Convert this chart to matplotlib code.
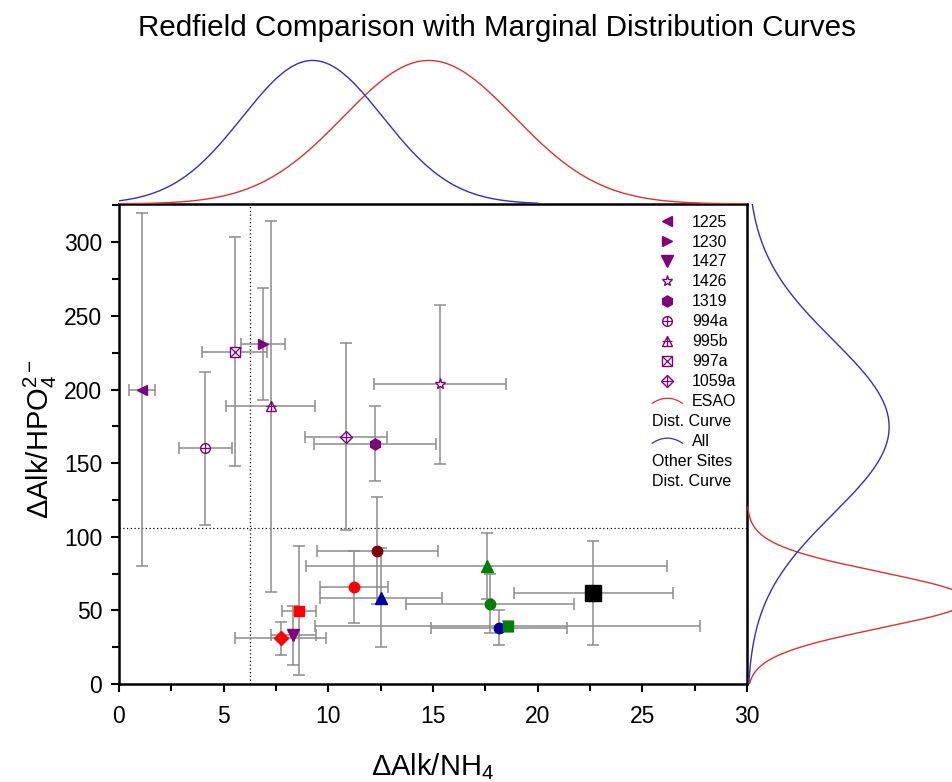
import numpy as np
import matplotlib
matplotlib.use("Agg")
import matplotlib.pyplot as plt
from matplotlib.ticker import MultipleLocator
from matplotlib.lines import Line2D
from matplotlib.legend_handler import HandlerBase

plt.rcParams['font.family'] = ['Liberation Sans', 'DejaVu Sans']
plt.rcParams['mathtext.fontset'] = 'custom'
plt.rcParams['mathtext.rm'] = 'Liberation Sans'
plt.rcParams['mathtext.it'] = 'Liberation Sans:italic'
plt.rcParams['mathtext.default'] = 'regular'

# ---------------- data ----------------
site_labels = ['1225', '1230', '1427', '1426', '1319', '994a', '995b', '997a', '1059a']
site_x = [1.10, 6.87, 8.33, 15.34, 12.23, 4.13, 7.25, 5.53, 10.83]
site_xerr = [0.64, 1.05, 1.06, 3.16, 2.93, 1.25, 2.13, 1.56, 1.95]
site_y = [200.0, 231.0, 33.0, 203.6, 163.3, 160.0, 188.7, 225.6, 168.0]
site_yerr = [120.0, 38.0, 20.0, 54.0, 25.6, 51.8, 126.0, 77.7, 63.5]

other_x = [12.34, 11.23, 12.52, 8.61, 7.73, 17.56, 17.72, 18.16, 18.56, 22.66]
other_xerr = [2.89, 1.64, 2.91, 0.82, 2.18, 8.63, 4.00, 3.24, 9.20, 3.81]
other_y = [90.5, 65.8, 58.6, 49.8, 31.0, 80.0, 54.5, 38.3, 39.1, 61.8]
other_yerr = [36.2, 24.2, 33.5, 44.0, 11.3, 22.6, 20.2, 11.9, 4.0, 35.6]

ref_x = 6.25     # vertical dotted reference line
ref_y = 106.0    # horizontal dotted reference line

# distribution curves: (mean, sd, lower, upper, relative peak height)
dist_x_params = [(14.8, 4.09, 0.0, 30.0, 0.97), (9.25, 3.35, 0.0, 20.0, 0.97)]
dist_y_params = [(57.0, 19.0, 0.0, 120.0, 1.07), (174.6, 59.0, 0.0, 326.0, 0.69)]

# ---------------- styles ----------------
purple = '#800080'
site_markers = ['<', '>', 'v', '*', 'h', 'o', '^', 's', 'D']
site_overlay = [None, None, None, None, None, '+', '+', 'x', '+']
site_filled = [True, True, True, False, True, False, False, False, False]
site_ms = [7.5, 7.5, 8, 8, 8, 7, 7.5, 6.5, 6.5]

other_markers = ['o', 'o', '^', 's', 'D', '^', 'o', 'o', 's', 's']
other_colors = ['#800000', '#ff0000', '#0000a0', '#ff0000', '#ff0000',
                '#008000', '#008000', '#0000a0', '#008000', '#000000']
other_ms = [7.5, 7.5, 8, 7, 7, 8, 7.5, 7.5, 7, 11]
dist_colors = ['#e03030', '#3030c0']
err_color = '#8c8c8c'

# ---------------- figure ----------------
W, H = 953, 782
fig = plt.figure(figsize=(W / 100, H / 100), dpi=100)

def fx(px):
    return px / W

def fy(py):
    return 1 - py / H

L, R, T, B = 119, 747, 204, 684
ax = fig.add_axes([fx(L), fy(B), fx(R) - fx(L), fy(T) - fy(B)])
axt = fig.add_axes([fx(L), fy(T), fx(R) - fx(L), fy(56) - fy(T)], sharex=ax)
axr = fig.add_axes([fx(R), fy(B), 1 - fx(R), fy(T) - fy(B)], sharey=ax)

# error bars
ax.errorbar(site_x, site_y, xerr=site_xerr, yerr=site_yerr, fmt='none',
            ecolor=err_color, elinewidth=1.1, capsize=4, capthick=1.1, zorder=2)
ax.errorbar(other_x, other_y, xerr=other_xerr, yerr=other_yerr, fmt='none',
            ecolor=err_color, elinewidth=1.1, capsize=4, capthick=1.1, zorder=2)

# reference lines
ax.axvline(ref_x, color='k', ls=(0, (1, 2)), lw=0.9, zorder=1)
ax.axhline(ref_y, color='k', ls=(0, (1, 2)), lw=0.9, zorder=1)

# site markers (legend entries)
legend_handles = []
for i, lab in enumerate(site_labels):
    fc = purple if site_filled[i] else 'white'
    h1, = ax.plot([site_x[i]], [site_y[i]], ls='none', marker=site_markers[i],
                  ms=site_ms[i], mfc=fc, mec=purple, mew=1.0, zorder=4)
    if site_overlay[i] is not None:
        h2, = ax.plot([site_x[i]], [site_y[i]], ls='none', marker=site_overlay[i],
                      ms=site_ms[i], mec=purple, mew=0.9, zorder=5)
        legend_handles.append((h1, h2))
    else:
        legend_handles.append(h1)

for i in range(len(other_x)):
    ax.plot([other_x[i]], [other_y[i]], ls='none', marker=other_markers[i],
            ms=other_ms[i], mfc=other_colors[i], mec=other_colors[i], zorder=4)

# marginal distribution curves
curve_handles = []
for (m, s, lo, hi, pk), c in zip(dist_x_params, dist_colors):
    xs = np.linspace(lo, hi, 400)
    h, = axt.plot(xs, pk * np.exp(-0.5 * ((xs - m) / s) ** 2), color=c, lw=1.0)
    curve_handles.append(h)
for (m, s, lo, hi, pk), c in zip(dist_y_params, dist_colors):
    ys = np.linspace(lo, hi, 400)
    axr.plot(pk * np.exp(-0.5 * ((ys - m) / s) ** 2), ys, color=c, lw=1.0)

# axes styling
ax.set_xlim(0, 30)
ax.set_ylim(0, 326)
ax.xaxis.set_major_locator(MultipleLocator(5))
ax.xaxis.set_minor_locator(MultipleLocator(2.5))
ax.yaxis.set_major_locator(MultipleLocator(50))
ax.yaxis.set_minor_locator(MultipleLocator(25))
ax.tick_params(which='major', direction='out', length=6, width=1.5, labelsize=16.5)
ax.tick_params(axis='x', which='major', pad=9)
ax.tick_params(axis='y', which='major', pad=6)
ax.tick_params(which='minor', direction='out', length=5, width=1.5)
for sp in ax.spines.values():
    sp.set_linewidth(1.8)

ax.set_xlabel('ΔAlk/NH$_4$', fontsize=21)
ax.xaxis.set_label_coords(0.5, -0.14)
ax.set_ylabel('ΔAlk/HPO$_4^{2-}$', fontsize=21)
ax.yaxis.set_label_coords(-0.095, 0.51)

axt.set_ylim(0, 1.0)
axt.axis('off')
axr.set_xlim(0, 1.0)
axr.axis('off')

# legend
class ArcHandler(HandlerBase):
    def create_artists(self, legend, orig_handle, xdescent, ydescent,
                       width, height, fontsize, trans):
        t = np.linspace(-1, 1, 40)
        xs = -xdescent + width * (t + 1) / 2
        ys = -ydescent + height * (0.25 + 0.45 * (1 - t ** 2))
        ln = Line2D(xs, ys, color=orig_handle.get_color(), lw=0.9)
        ln.set_transform(trans)
        return [ln]

LEG_FS = 11.5
blank = Line2D([], [], ls='none')
handles = legend_handles + [curve_handles[0], blank, curve_handles[1], blank, blank]
labels = site_labels + ['ESAO', 'Ag', 'All', 'Ag', 'Ag']
leg = ax.legend(handles, labels, loc='upper left', bbox_to_anchor=(0.849, 0.978),
                frameon=False, fontsize=LEG_FS, labelspacing=0.31, handlelength=1.9,
                handletextpad=0.6, borderpad=0, borderaxespad=0,
                handler_map={curve_handles[0]: ArcHandler(),
                             curve_handles[1]: ArcHandler()})
for t in leg.get_texts():
    if t.get_text() == 'Ag':
        t.set_alpha(0)

fig.canvas.draw()
inv = ax.transAxes.inverted()
leg_texts = leg.get_texts()
for idx, name in [(10, 'Dist. Curve'), (12, 'Other Sites'), (13, 'Dist. Curve')]:
    bb = leg_texts[idx].get_window_extent()
    yc = inv.transform((0, (bb.y0 + bb.y1) / 2))[1]
    ax.text(0.848, yc, name, transform=ax.transAxes, fontsize=LEG_FS,
            ha='left', va='center')

fig.text(0.522, 0.964, 'Redfield Comparison with Marginal Distribution Curves',
         ha='center', va='center', fontsize=21.3)

fig.savefig('out.png', dpi=100)
